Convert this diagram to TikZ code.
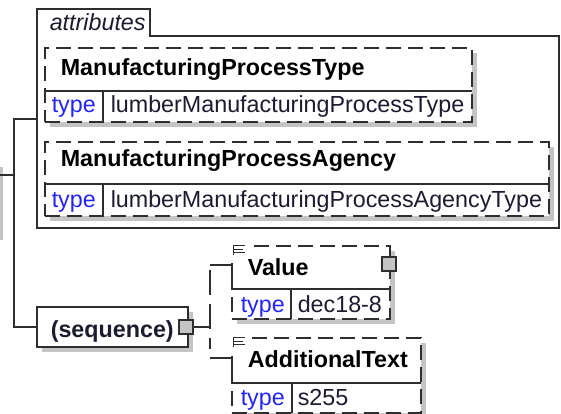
\documentclass[tikz,border=0pt]{standalone}
\usepackage{fontspec}
\setmainfont{Liberation Sans}
\usetikzlibrary{shadows}
\definecolor{ln}{HTML}{2E2E2E}
\definecolor{shd}{HTML}{C4C4C4}
\definecolor{typeblue}{HTML}{2424FF}
\definecolor{valtxt}{HTML}{1C1C30}
\begin{document}
\begin{tikzpicture}[x=1pt,y=-1pt,line width=1.5pt,
  box/.style={draw=ln,fill=white,inner sep=0pt,outer sep=0pt,anchor=north west,rectangle},
  dbox/.style={box,dash pattern=on 15pt off 7pt},
  shad/.style={drop shadow={shadow xshift=5pt,shadow yshift=-5pt,fill=shd,opacity=1}},
  conn/.style={draw=ln,line width=1.5pt},
  nm/.style={font=\fontsize{23.3}{28}\selectfont\bfseries,anchor=base west,inner sep=0pt,text=black},
  ty/.style={font=\fontsize{23.3}{28}\selectfont,anchor=base west,inner sep=0pt,text=typeblue},
  tv/.style={font=\fontsize{23.3}{28}\selectfont,anchor=base west,inner sep=0pt,text=valtxt},
  tabtxt/.style={font=\fontsize{23.3}{28}\selectfont\itshape,anchor=base west,inner sep=0pt,text=valtxt},
  sqbox/.style={draw=ln,fill=shd,inner sep=0pt,outer sep=0pt,anchor=north west,minimum size=14pt,line width=1.5pt},
  icon/.style={draw=ln,line width=1pt}]
\useasboundingbox (0,0) rectangle (561,414);
\fill[white] (0,0) rectangle (561,414);

% parent shadow stub on the left
\fill[shd] (0,167) rectangle (3,240);

% attributes container
\draw[ln] (150,36) -- (559,36) -- (559,228) -- (37,228) -- (37,9) -- (150,9) -- cycle;
\node[tabtxt] (tabtext) at (49,31) {attributes};
\coordinate (attrL) at (37,119);

% ManufacturingProcessType
\node[dbox,shad,minimum width=427pt,minimum height=74pt] (mpt) at (45,48) {};
\draw[ln] (45,91) -- (472,91);
\draw[ln] (103,91) -- (103,122);
\node[nm] (mptname) at (60,76) {ManufacturingProcessType};
\node[ty] (mpttype) at (51,113) {type};
\node[tv] (mptval) at (110,113) {lumberManufacturingProcessType};

% ManufacturingProcessAgency
\node[dbox,shad,minimum width=504pt,minimum height=74pt] (mpa) at (45,142) {};
\draw[ln] (45,184) -- (549,184);
\draw[ln] (103,184) -- (103,216);
\node[nm] (mpaname) at (60,166) {ManufacturingProcessAgency};
\node[ty] (mpatype) at (51,207) {type};
\node[tv] (mpaval) at (110,207) {lumberManufacturingProcessAgencyType};

% sequence
\node[box,shad,minimum width=151pt,minimum height=40pt] (seq) at (37,307) {};
\node[nm,text=valtxt] (seqtext) at (50,337) {(sequence)};
\node[sqbox] (seqsq) at (179,320) {};

% left connectors
\coordinate (p0) at (0,175);
\coordinate (j0) at (14,175);
\coordinate (jt) at (14,119);
\coordinate (jb) at (14,327);
\draw[conn] (p0) -- (j0);
\draw[conn] (attrL) -- (jt) -- (jb) -- (seq.west);

% sequence children connector
\coordinate (sj) at (210,327);
\coordinate (vs) at (210,270);
\coordinate (ve) at (210,349);
\coordinate (vt) at (210,265);
\coordinate (vb) at (210,358);
\coordinate (valL) at (232,265);
\coordinate (addL) at (232,358);
\draw[conn] (seqsq.east) -- (sj);
\draw[conn,dash pattern=on 25pt off 9pt] (vs) -- (ve);
\draw[conn] (vt) -- (valL);
\draw[conn] (vb) -- (addL);

% Value
\node[dbox,shad,minimum width=158pt,minimum height=73pt] (val) at (232,246) {};
\fill[white] (230.5,243) rectangle (249,263);
\draw[ln] (valL) -- (232,289);
\draw[ln] (232,289) -- (390,289);
\draw[ln] (291,289) -- (291,319);
\draw[ln] (390,246) -- (390,258);
\node[sqbox] (valsq) at (382,257) {};
\draw[icon] (233.5,255) -- (233.5,245.5) -- (245,245.5);
\draw[icon] (233.5,249) -- (243,249);
\draw[icon] (233.5,252.3) -- (245,252.3);
\node[nm] (valname) at (247,275) {Value};
\node[ty] (valtype) at (240,312) {type};
\node[tv] (valval) at (297,312) {dec18-8};

% AdditionalText
\node[dbox,shad,minimum width=189pt,minimum height=75pt] (addt) at (232,338) {};
\fill[white] (230.5,335) rectangle (249,356);
\draw[ln] (addL) -- (232,383);
\draw[ln] (232,383) -- (421,383);
\draw[ln] (292,383) -- (292,413);
\draw[icon] (233.5,347) -- (233.5,337.5) -- (245,337.5);
\draw[icon] (233.5,341) -- (243,341);
\draw[icon] (233.5,344.3) -- (245,344.3);
\node[nm] (addname) at (247,367) {AdditionalText};
\node[ty] (addtype) at (240,405) {type};
\node[tv] (addval) at (297,405) {s255};
\end{tikzpicture}
\end{document}
